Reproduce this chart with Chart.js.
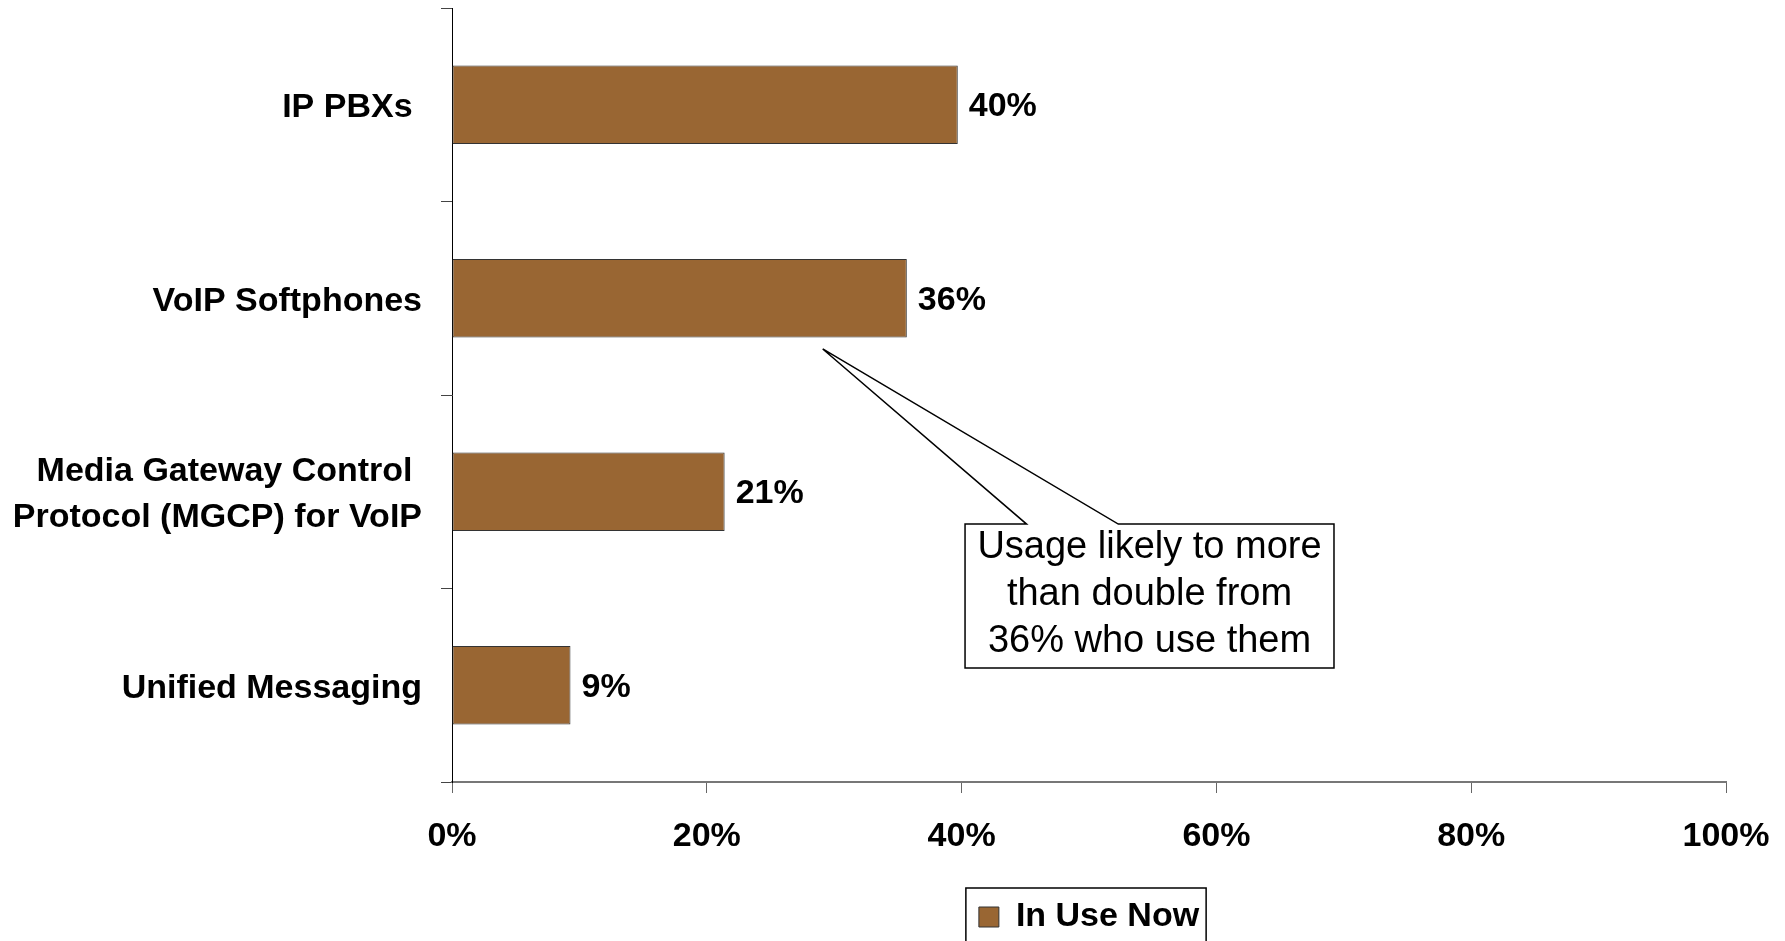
<!DOCTYPE html>
<html>
<head>
<meta charset="utf-8">
<script src="https://cdn.jsdelivr.net/npm/chart.js@4.4.1/dist/chart.umd.min.js"></script>
<style>
  html, body { margin: 0; padding: 0; background: #fff; overflow: hidden; }
  #wrap { width: 1785px; height: 944px; }
</style>
</head>
<body>
<div id="wrap"><canvas id="c" width="1785" height="944"></canvas></div>
<script>
// ---- data ----
const categories = ['IP PBXs ', 'VoIP Softphones', ['Media Gateway Control ', 'Protocol (MGCP) for VoIP'], 'Unified Messaging'];
const seriesName = 'In Use Now';
const inUseNow = [39.7, 35.7, 21.4, 9.3];
const valueLabels = ['40%', '36%', '21%', '9%'];
const xTicks = [0, 20, 40, 60, 80, 100];
const calloutLines = ['Usage likely to more', 'than double from', '36% who use them'];

// callout anchor in data units (x: percent, y: category index)
const callout = {
  tip: { x: 29.1, y: 1.262 },
  base1: { x: 45.1, y: 2.167 },
  base2: { x: 52.3, y: 2.167 },
  box: { x0: 40.27, x1: 69.23, y0: 2.167, y1: 2.911 }
};

const FONT = "'Liberation Sans', Arial, sans-serif";

const valueLabelPlugin = {
  id: 'valueLabels',
  afterDatasetsDraw(chart) {
    const ctx = chart.ctx;
    const meta = chart.getDatasetMeta(0);
    ctx.save();
    ctx.font = 'bold 34px ' + FONT;
    ctx.fillStyle = '#000';
    ctx.textAlign = 'left';
    ctx.textBaseline = 'middle';
    meta.data.forEach((bar, i) => {
      ctx.fillText(valueLabels[i], bar.x + 11, bar.y + 2);
    });
    ctx.restore();
  }
};

const calloutPlugin = {
  id: 'callout',
  afterDraw(chart) {
    const ctx = chart.ctx;
    const xs = chart.scales.x, ys = chart.scales.y;
    const px = v => xs.getPixelForValue(v);
    const py = v => ys.getPixelForValue(v);
    const b = callout.box;
    const x0 = px(b.x0), x1 = px(b.x1), y0 = py(b.y0), y1 = py(b.y1);
    ctx.save();
    ctx.fillStyle = '#fff';
    ctx.strokeStyle = '#000';
    ctx.lineWidth = 1.5;
    ctx.beginPath();
    ctx.moveTo(x0, y0);
    ctx.lineTo(px(callout.base1.x), y0);
    ctx.lineTo(px(callout.tip.x), py(callout.tip.y));
    ctx.lineTo(px(callout.base2.x), y0);
    ctx.lineTo(x1, y0);
    ctx.lineTo(x1, y1);
    ctx.lineTo(x0, y1);
    ctx.closePath();
    ctx.fill();
    ctx.stroke();
    ctx.fillStyle = '#000';
    ctx.font = '38px ' + FONT;
    ctx.textAlign = 'center';
    ctx.textBaseline = 'middle';
    const cx = (x0 + x1) / 2, cy = (y0 + y1) / 2 - 2;
    calloutLines.forEach((t, i) => ctx.fillText(t, cx, cy + (i - 1) * 47));
    ctx.restore();
  }
};

const legendBoxPlugin = {
  id: 'legendBox',
  afterDraw(chart) {
    const lg = chart.legend;
    if (!lg || !lg.legendHitBoxes || !lg.legendHitBoxes.length) return;
    const hb = lg.legendHitBoxes[0];
    const ctx = chart.ctx;
    const cy = hb.top + hb.height / 2;
    ctx.save();
    ctx.strokeStyle = '#000';
    ctx.lineWidth = 1.5;
    ctx.strokeRect(hb.left - 13, cy - 29, hb.width + 20, 80);
    ctx.restore();
  }
};

new Chart(document.getElementById('c'), {
  type: 'bar',
  data: {
    labels: categories,
    datasets: [{
      label: seriesName,
      data: inUseNow,
      backgroundColor: '#996633',
      borderColor: '#333333',
      borderWidth: 1,
      borderSkipped: false,
      categoryPercentage: 1.0,
      barPercentage: 0.405
    }]
  },
  options: {
    indexAxis: 'y',
    responsive: false,
    animation: false,
    devicePixelRatio: 1,
    layout: { padding: { top: 8, right: 59, left: 0, bottom: 0 } },
    scales: {
      x: {
        min: 0, max: 100,
        afterBuildTicks(scale) { scale.ticks = xTicks.map(v => ({ value: v })); },
        afterFit(scale) { scale.height = 108; scale.paddingLeft = 0; scale.paddingRight = 0; },
        grid: { drawOnChartArea: false, drawTicks: true, tickLength: 11, color: '#666', lineWidth: 1 },
        border: { color: '#777', width: 2 },
        ticks: {
          padding: 23,
          color: '#000',
          font: { family: FONT, size: 34, weight: 'bold', lineHeight: 1.2 },
          callback: v => v + '%',
          maxRotation: 0
        }
      },
      y: {
        afterFit(scale) { scale.width = 452; scale.paddingTop = 0; scale.paddingBottom = 0; },
        grid: { drawOnChartArea: false, drawTicks: true, tickLength: 11, color: '#444', offset: true },
        border: { color: '#000', width: 1 },
        ticks: {
          padding: 19,
          labelOffset: 3,
          color: '#000',
          font: { family: FONT, size: 34, weight: 'bold', lineHeight: 1.35 }
        }
      }
    },
    plugins: {
      legend: {
        position: 'bottom',
        fullSize: false,
        labels: {
          boxWidth: 20, boxHeight: 20, padding: 10,
          color: '#000',
          font: { family: FONT, size: 34, weight: 'bold' }
        }
      },
      tooltip: { enabled: false }
    }
  },
  plugins: [valueLabelPlugin, calloutPlugin, legendBoxPlugin]
});
</script>
</body>
</html>
